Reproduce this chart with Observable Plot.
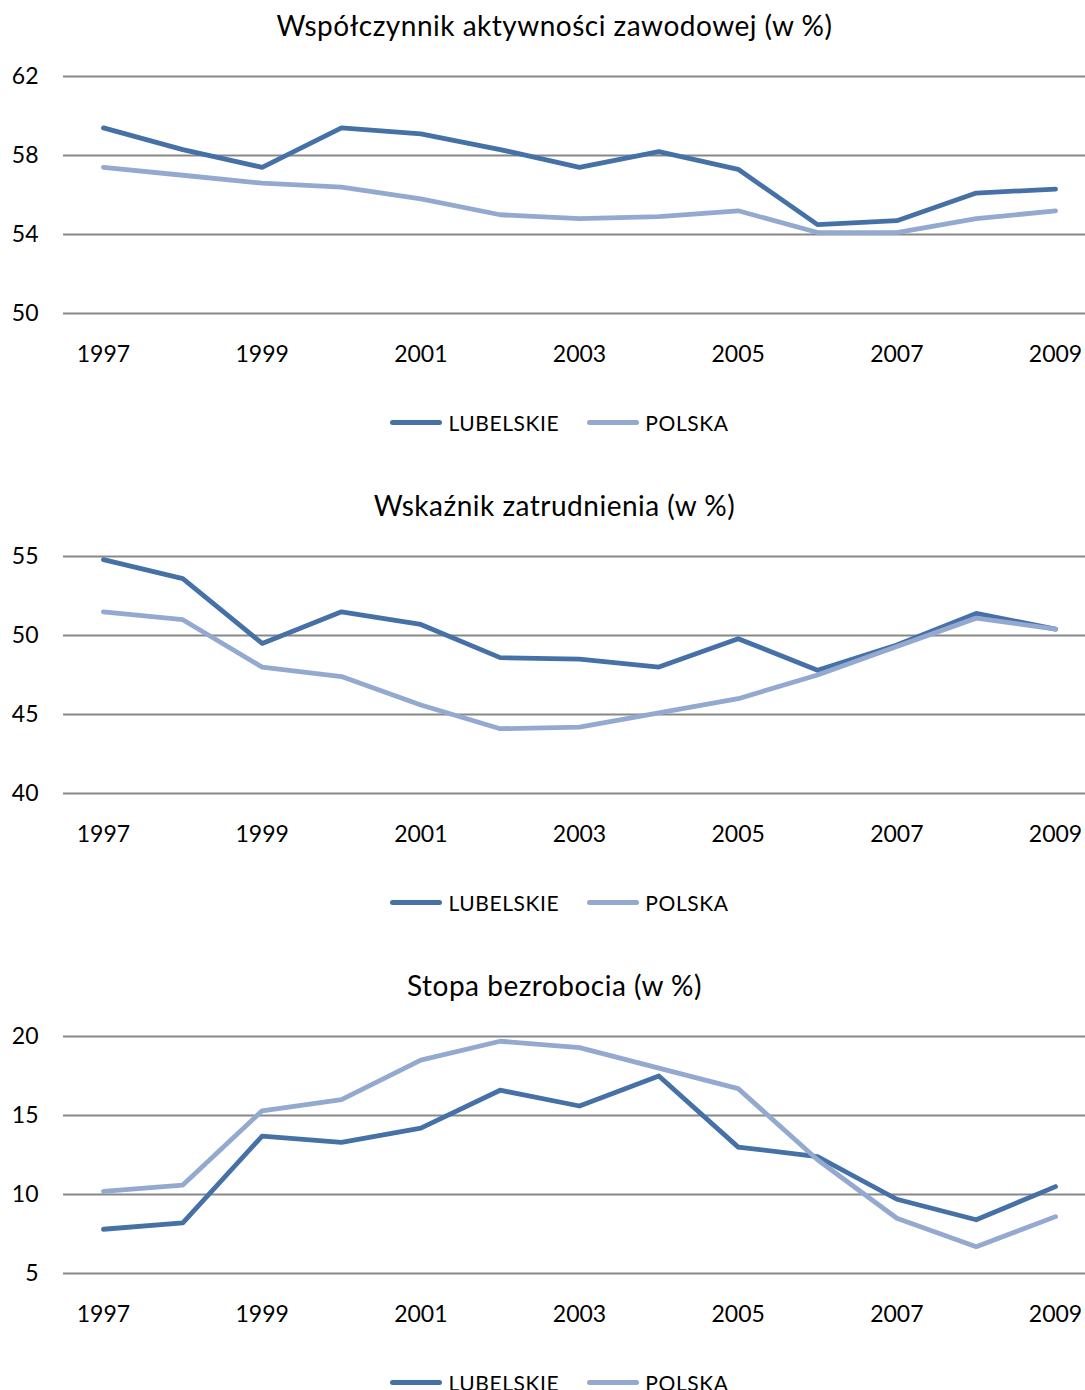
<!DOCTYPE html>
<html><head><meta charset="utf-8">
<script src="https://cdn.jsdelivr.net/npm/d3@7"></script>
<script src="https://cdn.jsdelivr.net/npm/@observablehq/plot@0.6"></script>
<style>
html,body{margin:0;padding:0;background:#fff;width:1085px;height:1390px;overflow:hidden;font-family:Lato,"Open Sans",sans-serif;}
.panel{position:relative;width:1085px;height:480px;}
.title{position:absolute;top:0;left:0;width:1085px;box-sizing:border-box;padding-left:24px;height:50px;line-height:50px;text-align:center;font-size:28px;letter-spacing:0.5px;color:#000;}
.chart{position:absolute;top:50px;left:0;}
.legend{position:absolute;top:380px;left:0;width:1085px;box-sizing:border-box;padding-left:34px;height:84px;display:flex;justify-content:center;align-items:center;font-size:21px;color:#000;letter-spacing:0.6px;}
.item{display:flex;align-items:center;margin:0 14px;}
.swatch{display:inline-block;width:52px;height:5px;border-radius:3px;margin-right:6px;}
</style>
</head><body>
<div id="root"></div>
<script>
const years = [1997,1998,1999,2000,2001,2002,2003,2004,2005,2006,2007,2008,2009];
const seriesNames = ["LUBELSKIE","POLSKA"];
const seriesColors = ["#4671A6","#93A9CF"];

const titles = ["Współczynnik aktywności zawodowej (w %)","Wskaźnik zatrudnienia (w %)","Stopa bezrobocia (w %)"];

const aktywnoscLubelskie = [59.4,58.3,57.4,59.4,59.1,58.3,57.4,58.2,57.3,54.5,54.7,56.1,56.3];
const aktywnoscPolska    = [57.4,57.0,56.6,56.4,55.8,55.0,54.8,54.9,55.2,54.1,54.1,54.8,55.2];

const zatrudnienieLubelskie = [54.8,53.6,49.5,51.5,50.7,48.6,48.5,48.0,49.8,47.8,49.4,51.4,50.4];
const zatrudnieniePolska    = [51.5,51.0,48.0,47.4,45.6,44.1,44.2,45.1,46.0,47.5,49.3,51.1,50.4];

const bezrobocieLubelskie = [7.8,8.2,13.7,13.3,14.2,16.6,15.6,17.5,13.0,12.4,9.7,8.4,10.5];
const bezrobociePolska    = [10.2,10.6,15.3,16.0,18.5,19.7,19.3,18.0,16.7,12.2,8.5,6.7,8.6];

const yTicks1 = [50,54,58,62];
const yTicks2 = [40,45,50,55];
const yTicks3 = [5,10,15,20];
const xTicks = [1997,1999,2001,2003,2005,2007,2009];

const panels = [
  {title: titles[0], series: [aktywnoscLubelskie, aktywnoscPolska], ticks: yTicks1},
  {title: titles[1], series: [zatrudnienieLubelskie, zatrudnieniePolska], ticks: yTicks2},
  {title: titles[2], series: [bezrobocieLubelskie, bezrobociePolska], ticks: yTicks3}
];

const root = document.getElementById("root");
for (const p of panels) {
  const data = [];
  p.series.forEach((vals, si) => vals.forEach((v, i) => data.push({year: years[i], value: v, series: seriesNames[si]})));
  const panel = document.createElement("div");
  panel.className = "panel";
  const t = document.createElement("div");
  t.className = "title";
  t.textContent = p.title;
  panel.appendChild(t);

  const chart = Plot.plot({
    width: 1085,
    height: 330,
    marginLeft: 63,
    marginRight: 0,
    marginTop: 26,
    marginBottom: 67,
    style: {fontFamily: "Lato, 'Open Sans', sans-serif", fontSize: "23px", color: "#000", background: "#fff"},
    x: {domain: [1996.5, 2009.5], range: [63.3, 1094.7], ticks: xTicks, tickFormat: d => String(d), tickSize: 0, tickPadding: 32, label: null},
    y: {domain: [d3.min(p.ticks), d3.max(p.ticks)], ticks: p.ticks, tickSize: 0, tickPadding: 25, label: null},
    color: {domain: seriesNames, range: seriesColors},
    marks: [
      Plot.ruleY(p.ticks, {stroke: "#888888", strokeWidth: 2.2}),
      Plot.line(data, {x: "year", y: "value", z: "series", stroke: "series", strokeWidth: 4.8, strokeLinejoin: "round", strokeLinecap: "round"})
    ]
  });
  chart.classList.add("chart");
  panel.appendChild(chart);

  const lg = document.createElement("div");
  lg.className = "legend";
  seriesNames.forEach((n, i) => {
    const it = document.createElement("span");
    it.className = "item";
    const sw = document.createElement("span");
    sw.className = "swatch";
    sw.style.background = seriesColors[i];
    it.appendChild(sw);
    it.appendChild(document.createTextNode(n));
    lg.appendChild(it);
  });
  panel.appendChild(lg);
  root.appendChild(panel);
}
</script>
</body></html>
